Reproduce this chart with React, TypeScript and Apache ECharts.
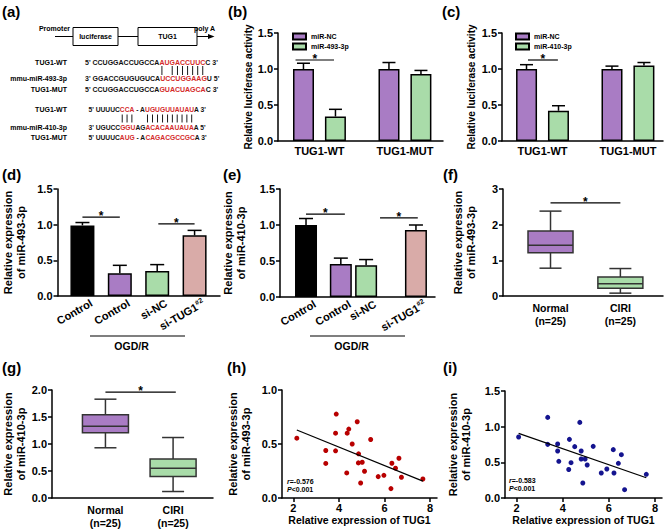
import React, { useEffect, useRef } from "react";
import * as echarts from "echarts";

const FONT = "'Liberation Sans', Arial, Helvetica, sans-serif";
const PURPLE = "#a97cc4";
const GREEN = "#a9dca9";
const PINK = "#d9aba8";
const BLACK = "#000000";
const RED = "#d42a2a";

// ---------- (b) ----------
const bGroups = ["TUG1-WT", "TUG1-MUT"];
const bSlots = [0, 1];
const bNC = [1.0, 1.0];
const bNCErr = [0.08, 0.09];
const b493 = [0.34, 0.93];
const b493Err = [0.1, 0.05];
const bSig = [[-0.28, 0.17, 1.125]];
// ---------- (c) ----------
const cNC = [1.0, 1.0];
const cNCErr = [0.06, 0.04];
const c410 = [0.42, 1.05];
const c410Err = [0.07, 0.04];
const cSig = [[-0.17, 0.18, 1.125]];
// ---------- (d) ----------
const dGroups = ["Control", "Control", "si-NC", "si-TUG1#2"];
const dSlots = [0, 1, 2, 3];
const dVals = [0.99, 0.32, 0.35, 0.85];
const dErr = [0.04, 0.11, 0.09, 0.07];
const dSig = [[0, 1, 1.107], [2.03, 3.0, 1.01]];
// ---------- (e) ----------
const eSlots = [0, 0.95, 1.64, 3];
const eVals = [1.0, 0.46, 0.44, 0.93];
const eErr = [0.09, 0.08, 0.08, 0.07];
const eSig = [[0, 1.06, 1.15], [2.02, 3.05, 1.1]];
const barColors = [BLACK, PURPLE, GREEN, PINK];
// ---------- (f) / (g) boxes: min, Q1, median, Q3, max ----------
const boxGroups = ["Normal", "CIRI"];
const boxN = ["(n=25)", "(n=25)"];
const fNormal = [0.78, 1.21, 1.42, 1.82, 2.38];
const fCIRI = [0.08, 0.22, 0.34, 0.53, 0.77];
const fSig = [[0, 1, 2.61]];
const gNormal = [0.93, 1.21, 1.33, 1.54, 1.83];
const gCIRI = [0.12, 0.4, 0.55, 0.72, 1.12];
const gSig = [[0, 1.04, 1.96]];
// ---------- (h) ----------
const hTUG1 = [2.15, 3.42, 3.42, 3.85, 3.85, 3.88, 4.34, 4.36, 4.43, 4.58, 4.8, 4.86, 4.85, 4.95, 5.02, 5.12, 5.39, 5.72, 5.97, 6.28, 6.32, 6.48, 6.63, 6.74, 7.68];
const hMiR493 = [0.554, 0.44, 0.32, 0.6, 0.437, 0.777, 0.232, 0.6, 0.638, 0.5, 0.706, 0.409, 0.325, 0.139, 0.331, 0.248, 0.542, 0.198, 0.21, 0.087, 0.322, 0.276, 0.368, 0.192, 0.176];
// ---------- (i) ----------
const iTUG1 = [2.09, 3.35, 3.35, 3.78, 3.78, 3.83, 4.26, 4.29, 4.36, 4.52, 4.74, 4.8, 4.8, 4.87, 4.97, 5.06, 5.32, 5.67, 5.91, 6.19, 6.22, 6.41, 6.54, 6.68, 7.62];
const iMiR410 = [0.855, 1.13, 0.752, 0.757, 0.659, 0.514, 0.4, 0.822, 0.495, 0.72, 1.06, 0.659, 0.547, 0.21, 0.547, 0.463, 0.724, 0.35, 0.407, 0.678, 0.35, 0.486, 0.607, 0.117, 0.332];
const scatterTicks = [2, 4, 6, 8];

// ---------- (a) sequences ----------
type Seg = [string, number];
const seqRows: { label: string; segs: Seg[] }[] = [
  { label: "TUG1-WT", segs: [["5' CCUGGACCUGCCA", 0], ["AUGACCUUC", 1], ["C 3'", 0]] },
  { label: "mmu-miR-493-3p", segs: [["3' GGACCGUGUGUCA", 0], ["UCCUGGAAG", 1], ["U 5'", 0]] },
  { label: "TUG1-MUT", segs: [["5' CCUGGACCUGCCA", 0], ["GUACUAGCA", 1], ["C 3'", 0]] },
  { label: "TUG1-WT", segs: [["5' UUUUC", 0], ["CCA", 1], [" - A", 0], ["UGUGUUAUAU", 1], ["A 3'", 0]] },
  { label: "mmu-miR-410-3p", segs: [["3' UGUCC", 0], ["GGU", 1], ["AG", 0], ["ACACAAUAUA", 1], ["A 5'", 0]] },
  { label: "TUG1-MUT", segs: [["5' UUUUC", 0], ["AUG", 1], [" - A", 0], ["CAGACGCCGC", 1], ["A 3'", 0]] },
];
const pair1 = [16, 18, 19, 20, 21, 22, 23, 24];
const pair2 = [8, 9, 10, 15, 16, 17, 18, 19, 20, 21, 22, 23, 24];

const txt = { color: "#000", fontFamily: FONT, fontWeight: "bold" as const };

function measure(text: string, font: string): number {
  const c = document.createElement("canvas").getContext("2d");
  if (!c) return text.length * 5;
  c.font = font;
  return c.measureText(text).width;
}

function nearestIdx(arr: number[], v: number) {
  let best = -1, d = 1e9;
  arr.forEach((a, i) => {
    if (Math.abs(a - v) < d) { d = Math.abs(a - v); best = i; }
  });
  return d < 1e-6 ? best : -1;
}

function yAxis(grid: number, max: number, interval: number, dec: number, name: string, nameGap: number, nameSize: number) {
  return {
    type: "value", gridIndex: grid, min: 0, max, interval,
    axisLine: { show: true, onZero: false, lineStyle: { color: "#000", width: 1.5 } },
    axisTick: { show: true, length: 4, lineStyle: { color: "#000", width: 1.5 } },
    axisLabel: { ...txt, fontSize: 11, margin: 5, formatter: (v: number) => v.toFixed(dec) },
    splitLine: { show: false },
    name, nameLocation: "middle", nameGap, nameMoveOverlap: false,
    nameTextStyle: { ...txt, fontSize: nameSize, lineHeight: 13 },
  };
}

// labelShiftPx moves the (rotated) labels to the right of their slot, in pixels
function xSlots(grid: number, min: number, max: number, widthPx: number, slots: number[], fmt: (i: number) => string, extra: any = {}, labelShiftPx = 0) {
  const shift = (labelShiftPx * (max - min)) / widthPx;
  const labelVals = slots.map((s) => s + shift);
  return {
    type: "value", gridIndex: grid, min, max,
    axisLine: { show: true, onZero: false, lineStyle: { color: "#000", width: 1.5 } },
    axisTick: { show: false },
    splitLine: { show: false },
    axisLabel: {
      ...txt, fontSize: 11, margin: 4, customValues: labelVals,
      formatter: (v: number) => { const i = nearestIdx(labelVals, v); return i < 0 ? "" : fmt(i); },
      ...extra,
    },
  };
}

function xScatter(grid: number) {
  return {
    type: "value", gridIndex: grid, min: 1.5, max: 8.3,
    axisLine: { show: true, onZero: false, lineStyle: { color: "#000", width: 1.5 } },
    axisTick: { show: true, length: 4, customValues: scatterTicks, lineStyle: { color: "#000", width: 1.5 } },
    axisLabel: { ...txt, fontSize: 11, margin: 4, customValues: scatterTicks },
    splitLine: { show: false },
    name: "Relative expression of TUG1", nameLocation: "middle", nameGap: 16, nameMoveOverlap: false,
    nameTextStyle: { ...txt, fontSize: 10.5 },
  };
}

function barSeries(ax: number, name: string, slots: number[], vals: number[], color: string | string[], width: number, gap?: string) {
  return {
    type: "bar", name, xAxisIndex: ax, yAxisIndex: ax, barWidth: width, barGap: gap,
    itemStyle: { color: typeof color === "string" ? color : color[0], borderColor: "#000", borderWidth: 1.5 },
    data: slots.map((s, i) => typeof color === "string"
      ? [s, vals[i]]
      : { value: [s, vals[i]], itemStyle: { color: color[i] } }),
  };
}

function errSeries(ax: number, slots: number[], vals: number[], errs: number[], offset: number, cap: number) {
  return {
    type: "custom", xAxisIndex: ax, yAxisIndex: ax, silent: true, z: 4, clip: false,
    encode: { x: 0, y: [1, 2] },
    data: slots.map((s, i) => [s, vals[i], vals[i] + errs[i]]),
    renderItem: (_p: any, api: any) => {
      const a = api.coord([api.value(0), api.value(1)]);
      const b = api.coord([api.value(0), api.value(2)]);
      const cx = a[0] + offset;
      const st = { stroke: "#000", lineWidth: 1.5 };
      return {
        type: "group", children: [
          { type: "line", shape: { x1: cx, y1: a[1], x2: cx, y2: b[1] }, style: st },
          { type: "line", shape: { x1: cx - cap, y1: b[1], x2: cx + cap, y2: b[1] }, style: st },
        ],
      };
    },
  };
}

function sigSeries(ax: number, items: number[][]) {
  return {
    type: "custom", xAxisIndex: ax, yAxisIndex: ax, silent: true, z: 5, clip: false,
    encode: { x: [0, 1], y: 2 },
    data: items,
    renderItem: (_p: any, api: any) => {
      const a = api.coord([api.value(0), api.value(2)]);
      const b = api.coord([api.value(1), api.value(2)]);
      return {
        type: "group", children: [
          { type: "line", shape: { x1: a[0], y1: a[1], x2: b[0], y2: b[1] }, style: { stroke: "#000", lineWidth: 1.2 } },
          { type: "text", style: { text: "*", x: (a[0] + b[0]) / 2, y: a[1] - 1, align: "center", verticalAlign: "middle", fill: "#000", font: `bold 12px ${FONT}` } },
        ],
      };
    },
  };
}

function boxSeries(ax: number, rows: number[][], colors: string[], halfW: number, capW: number) {
  return {
    type: "custom", xAxisIndex: ax, yAxisIndex: ax, silent: true, z: 3, clip: false,
    encode: { x: 0, y: [1, 2, 3, 4, 5] },
    data: rows.map((r, i) => [i, ...r]),
    renderItem: (p: any, api: any) => {
      const x = api.value(0);
      const cx = api.coord([x, 0])[0];
      const Y = (k: number) => api.coord([x, api.value(k)])[1];
      const yMin = Y(1), yQ1 = Y(2), yMed = Y(3), yQ3 = Y(4), yMax = Y(5);
      const st = { stroke: "#333", lineWidth: 1.5 };
      return {
        type: "group", children: [
          { type: "line", shape: { x1: cx, y1: yMax, x2: cx, y2: yQ3 }, style: st },
          { type: "line", shape: { x1: cx, y1: yQ1, x2: cx, y2: yMin }, style: st },
          { type: "line", shape: { x1: cx - capW, y1: yMax, x2: cx + capW, y2: yMax }, style: st },
          { type: "line", shape: { x1: cx - capW, y1: yMin, x2: cx + capW, y2: yMin }, style: st },
          { type: "rect", shape: { x: cx - halfW, y: yQ3, width: halfW * 2, height: yQ1 - yQ3 }, style: { fill: colors[p.dataIndex], stroke: "#333", lineWidth: 1.5 } },
          { type: "line", shape: { x1: cx - halfW, y1: yMed, x2: cx + halfW, y2: yMed }, style: st },
        ],
      };
    },
  };
}

function fitLine(xs: number[], ys: number[]) {
  const n = xs.length;
  const mx = xs.reduce((s, v) => s + v, 0) / n;
  const my = ys.reduce((s, v) => s + v, 0) / n;
  let sxy = 0, sxx = 0;
  for (let i = 0; i < n; i++) { sxy += (xs[i] - mx) * (ys[i] - my); sxx += (xs[i] - mx) ** 2; }
  const b = sxy / sxx, a = my - b * mx;
  const x0 = Math.min(...xs), x1 = Math.max(...xs);
  return [[x0, a + b * x0], [x1, a + b * x1]];
}

function textEl(text: string, x: number, y: number, size: number, align = "left", extra: any = {}) {
  return {
    type: "text", x, y, silent: true,
    style: { text, fill: "#000", font: `bold ${size}px ${FONT}`, align, verticalAlign: "middle", textAlign: align, textVerticalAlign: "middle", ...extra },
  };
}

function buildGraphic() {
  const g: any[] = [];
  const letters: [string, number, number][] = [
    ["(a)", 2, 11], ["(b)", 228, 11], ["(c)", 442, 11],
    ["(d)", 2, 174], ["(e)", 223, 174], ["(f)", 443, 174],
    ["(g)", 2, 367], ["(h)", 227, 367], ["(i)", 443, 367],
  ];
  letters.forEach(([t, x, y]) => g.push(textEl(t, x, y, 15)));

  const ln = (x1: number, y1: number, x2: number, y2: number, w = 1) =>
    ({ type: "line", silent: true, shape: { x1, y1, x2, y2 }, style: { stroke: "#000", lineWidth: w } });
  g.push(textEl("Promoter", 70, 28, 7, "right"));
  g.push(ln(55, 36.5, 73, 36.5));
  g.push({ type: "rect", silent: true, shape: { x: 73, y: 27.5, width: 45, height: 18 }, style: { fill: "#fff", stroke: "#000", lineWidth: 1 } });
  g.push(textEl("luciferase", 95.5, 36.5, 7, "center"));
  g.push(ln(118, 36.5, 138, 36.5));
  g.push({ type: "rect", silent: true, shape: { x: 138, y: 27.5, width: 59, height: 18 }, style: { fill: "#fff", stroke: "#000", lineWidth: 1 } });
  g.push(textEl("TUG1", 167.5, 36.5, 7, "center"));
  g.push(ln(197, 36.5, 209, 36.5));
  g.push({ type: "polygon", silent: true, shape: { points: [[208, 34], [214.5, 36.5], [208, 39]] }, style: { fill: "#000" } });
  g.push(textEl("poly A", 194, 28, 7));

  const rowY = [62, 78, 89.5, 109, 127, 137.5];
  const rowX = [85, 85, 85, 88.5, 88.5, 88.5];
  const rowSize = [7, 7, 7, 6.7, 6.7, 6.7];
  seqRows.forEach((r, i) => {
    const size = rowSize[i];
    g.push(textEl(r.label, 67, rowY[i], 7, "right"));
    const rich: any = {
      k: { fill: "#111", fontSize: size, fontWeight: "bold", fontFamily: FONT },
      r: { fill: RED, fontSize: size, fontWeight: "bold", fontFamily: FONT },
    };
    const text = r.segs.map(([s, c]) => `{${c ? "r" : "k"}|${s}}`).join("");
    g.push({
      type: "text", x: rowX[i], y: rowY[i], silent: true,
      style: { text, rich, fill: "#111", font: `bold ${size}px ${FONT}`, align: "left", verticalAlign: "middle", textAlign: "left", textVerticalAlign: "middle" },
    });
  });
  const bars = (rowIdx: number, idxs: number[], y1: number, y2: number) => {
    const full = seqRows[rowIdx].segs.map((s) => s[0]).join("");
    const font = `bold ${rowSize[rowIdx]}px ${FONT}`;
    idxs.forEach((k) => {
      const x = rowX[rowIdx] + measure(full.slice(0, k), font) + measure(full[k], font) / 2;
      g.push(ln(x, y1, x, y2, 0.9));
    });
  };
  bars(0, pair1, 66, 75);
  bars(3, pair2, 114.5, 122.5);

  g.push(ln(90, 336, 185, 336, 1.2));
  g.push(textEl("OGD/R", 131.5, 346, 10.5, "center"));
  g.push(ln(310, 336, 405, 336, 1.2));
  g.push(textEl("OGD/R", 351.5, 346, 10.5, "center"));

  const statRich = {
    i: { fontStyle: "italic", fontWeight: "bold", fontSize: 7, fontFamily: FONT, fill: "#000" },
    n: { fontWeight: "bold", fontSize: 7, fontFamily: FONT, fill: "#000" },
  };
  const stat = (x: number, y: number, r: string) => {
    g.push({
      type: "text", x, y, silent: true,
      style: { text: `{i|r}{n|=${r}}`, font: `bold 7px ${FONT}`, align: "left", verticalAlign: "middle", textAlign: "left", textVerticalAlign: "middle", rich: statRich },
    });
    g.push({
      type: "text", x, y: y + 8.5, silent: true,
      style: { text: `{i|P}{n|<0.001}`, font: `bold 7px ${FONT}`, align: "left", verticalAlign: "middle", textAlign: "left", textVerticalAlign: "middle", rich: statRich },
    });
  };
  stat(287, 481, "-0.576");
  stat(509, 480, "-0.583");
  return g;
}

function buildOption() {
  const dLabel = (names: string[]) => (i: number) => {
    const n = names[i];
    if (n.indexOf("#") > 0) {
      const [a, b] = n.split("#");
      return `{n|${a}}{s|#${b}}`;
    }
    return `{n|${n}}`;
  };
  const rotRich = {
    n: { ...txt, fontSize: 11 },
    s: { ...txt, fontSize: 7, verticalAlign: "top", padding: [0, 0, 6, 0] },
  };
  const boxFmt = (i: number) => `${boxGroups[i]}\n${boxN[i]}`;
  const legendStyle = { ...txt, fontSize: 7 };

  return {
    animation: false,
    backgroundColor: "#ffffff",
    textStyle: { fontFamily: FONT },
    grid: [
      { left: 278, top: 33, width: 165, height: 108 },
      { left: 502, top: 33, width: 161, height: 108 },
      { left: 57, top: 189, width: 163, height: 107 },
      { left: 280, top: 189, width: 155, height: 108 },
      { left: 503, top: 189, width: 160, height: 107 },
      { left: 50, top: 390, width: 163, height: 108 },
      { left: 282, top: 390, width: 155, height: 108 },
      { left: 505, top: 391, width: 157, height: 107 },
    ],
    xAxis: [
      xSlots(0, -0.485, 1.445, 165, bSlots, (i) => bGroups[i]),
      xSlots(1, -0.474, 1.41, 161, bSlots, (i) => bGroups[i]),
      xSlots(2, -0.667, 3.68, 163, dSlots, dLabel(dGroups), { rotate: 30, margin: 6, rich: rotRich }, 9),
      xSlots(3, -0.71, 3.52, 155, eSlots, dLabel(dGroups), { rotate: 30, margin: 6, rich: rotRich }, 9),
      xSlots(4, -0.68, 1.61, 160, [0, 1], boxFmt, { lineHeight: 13, fontSize: 10.5, margin: 5 }),
      xSlots(5, -0.79, 1.59, 163, [0, 1], boxFmt, { lineHeight: 13, fontSize: 10.5, margin: 5 }),
      xScatter(6),
      xScatter(7),
    ],
    yAxis: [
      yAxis(0, 1.5, 0.5, 1, "Relative luciferase activity", 23, 10),
      yAxis(1, 1.5, 0.5, 1, "Relative luciferase activity", 24, 10),
      yAxis(2, 1.5, 0.5, 1, "Relative expression\nof miR-493-3p", 30.5, 11),
      yAxis(3, 1.5, 0.5, 1, "Relative expression\nof miR-410-3p", 33, 11),
      yAxis(4, 3, 1, 0, "Relative expression\nof miR-493-3p", 26, 11),
      yAxis(5, 2, 0.5, 1, "Relative expression\nof miR-410-3p", 25, 11),
      yAxis(6, 1, 0.5, 1, "Relative expression\nof miR-493-3p", 30, 11),
      yAxis(7, 1.5, 0.5, 1, "Relative expression\nof miR-410-3p", 33, 11),
    ],
    legend: [
      { left: 287, top: 27.5, orient: "vertical", icon: "rect", itemWidth: 13, itemHeight: 6, itemGap: 2, selectedMode: false, data: ["miR-NC", "miR-493-3p"], textStyle: legendStyle },
      { left: 510, top: 27.5, orient: "vertical", icon: "rect", itemWidth: 13, itemHeight: 6, itemGap: 2, selectedMode: false, data: ["miR-NC", "miR-410-3p"], textStyle: legendStyle },
    ],
    series: [
      barSeries(0, "miR-NC", bSlots, bNC, PURPLE, 21, "52%"),
      barSeries(0, "miR-493-3p", bSlots, b493, GREEN, 21, "52%"),
      errSeries(0, bSlots, bNC, bNCErr, -16, 6.5),
      errSeries(0, bSlots, b493, b493Err, 16, 6.5),
      sigSeries(0, bSig),
      barSeries(1, "miR-NC", bSlots, cNC, PURPLE, 21, "52%"),
      barSeries(1, "miR-410-3p", bSlots, c410, GREEN, 21, "52%"),
      errSeries(1, bSlots, cNC, cNCErr, -16, 6.5),
      errSeries(1, bSlots, c410, c410Err, 16, 6.5),
      sigSeries(1, cSig),
      barSeries(2, "d", dSlots, dVals, barColors, 24),
      errSeries(2, dSlots, dVals, dErr, 0, 7),
      sigSeries(2, dSig),
      barSeries(3, "e", eSlots, eVals, barColors, 22),
      errSeries(3, eSlots, eVals, eErr, 0, 7),
      sigSeries(3, eSig),
      boxSeries(4, [fNormal, fCIRI], [PURPLE, GREEN], 22.5, 11),
      sigSeries(4, fSig),
      boxSeries(5, [gNormal, gCIRI], [PURPLE, GREEN], 23, 11),
      sigSeries(5, gSig),
      {
        type: "scatter", xAxisIndex: 6, yAxisIndex: 6, symbolSize: 5, itemStyle: { color: "#b80000", opacity: 1 },
        data: hTUG1.map((x, i) => [x, hMiR493[i]]),
      },
      { type: "line", xAxisIndex: 6, yAxisIndex: 6, symbol: "none", lineStyle: { color: "#000", width: 1.2 }, data: fitLine(hTUG1, hMiR493), silent: true },
      {
        type: "scatter", xAxisIndex: 7, yAxisIndex: 7, symbolSize: 5, itemStyle: { color: "#14148f", opacity: 1 },
        data: iTUG1.map((x, i) => [x, iMiR410[i]]),
      },
      { type: "line", xAxisIndex: 7, yAxisIndex: 7, symbol: "none", lineStyle: { color: "#000", width: 1.2 }, data: fitLine(iTUG1, iMiR410), silent: true },
    ],
    graphic: buildGraphic(),
  };
}

export default function App() {
  const ref = useRef<HTMLDivElement>(null);
  useEffect(() => {
    if (!ref.current) return;
    const chart = echarts.init(ref.current, null, { renderer: "svg" });
    chart.setOption(buildOption() as any);
    return () => chart.dispose();
  }, []);
  return (
    <div
      ref={ref}
      style={{ position: "absolute", left: 0, top: 0, width: 668, height: 530, background: "#fff" }}
    />
  );
}
